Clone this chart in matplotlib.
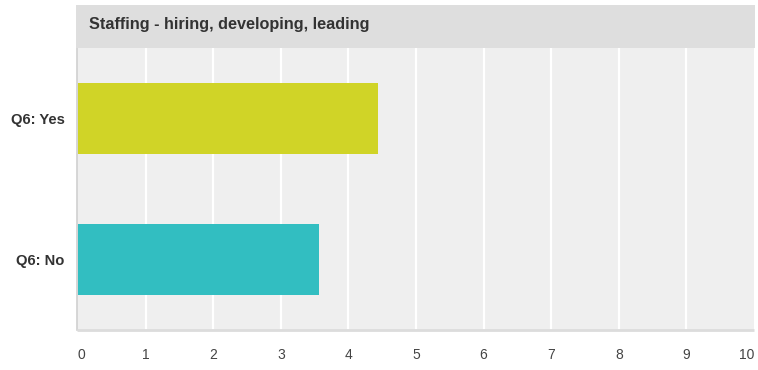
import matplotlib.pyplot as plt
from matplotlib.patches import Rectangle

plt.rcParams['font.family'] = ['Liberation Sans', 'DejaVu Sans']

titulo = "Staffing - hiring, developing, leading"
categorias = ["Q6: No", "Q6: Yes"]
valores = [3.57, 4.44]
colores = ["#32bec1", "#d0d427"]
ticks_x = list(range(0, 11))

W, H = 758, 370
fig = plt.figure(figsize=(W / 100, H / 100), dpi=100)

# area de datos
ax = fig.add_axes([77 / W, 1 - 330 / H, 677 / W, 282 / H])
ax.set_facecolor("#efefef")
ax.barh(range(len(categorias)), valores, height=0.5, color=colores, zorder=3)
ax.set_xlim(-1 / 67.6, 10)
ax.set_ylim(-0.5, 1.5)
for t in ticks_x[1:-1]:
    ax.axvline(t, color="white", linewidth=1.6, zorder=1)

ax.set_yticks(range(len(categorias)))
ax.set_yticklabels(categorias, fontsize=10.6, fontweight="bold", color="#333333")
ax.set_xticks(ticks_x)
ax.set_xticklabels([])
ax.tick_params(length=0)
ax.tick_params(axis="y", pad=9)

for lado in ["top", "right"]:
    ax.spines[lado].set_visible(False)
ax.spines["left"].set_color("#d0d0d0")
ax.spines["left"].set_linewidth(1.2)
ax.spines["bottom"].set_color("#dcdcdc")
ax.spines["bottom"].set_linewidth(2)
ax.spines["bottom"].set_capstyle("butt")

# etiquetas del eje x (la primera y la ultima ajustadas al borde)
for t in ticks_x:
    ha = "center"
    if t == ticks_x[0]:
        ha = "left"
    elif t == ticks_x[-1]:
        ha = "right"
    ax.text(t, -0.5 - 25 / 141, str(t), ha=ha, va="center",
            fontsize=10, color="#444444", transform=ax.transData, clip_on=False)

# banda del titulo
fig.patches.append(Rectangle((76 / W, 1 - 48 / H), 679 / W, 43 / H,
                             transform=fig.transFigure, facecolor="#dedede",
                             edgecolor="none"))
fig.text(89 / W, 1 - 25 / H, titulo, ha="left", va="center",
         fontsize=11.7, fontweight="bold", color="#333333")

fig.savefig("out.png", dpi=100, facecolor="white")
